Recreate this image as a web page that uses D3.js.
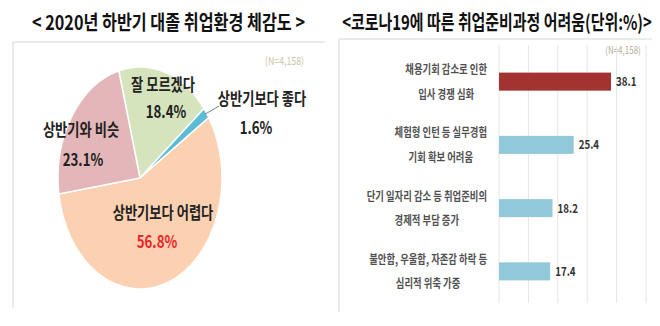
<!DOCTYPE html>
<html><head><meta charset="utf-8">
<script src="https://cdn.jsdelivr.net/npm/d3@7"></script>
<style>
html,body{margin:0;padding:0;background:#fff;}
svg{display:block;font-family:"Noto Sans CJK KR","Noto Sans",sans-serif;}
</style></head>
<body>
<svg id="c" width="660" height="326"></svg>
<script>
// ---- data ----
const leftTitle = "< 2020년 하반기 대졸 취업환경 체감도 >";
const rightTitle = "<코로나19에 따른 취업준비과정 어려움(단위:%)>";
const sampleLabel = "(N=4,158)";

const pieNames = ["잘 모르겠다", "상반기보다 좋다", "상반기보다 어렵다", "상반기와 비슷"];
const pieValues = [18.4, 1.6, 56.8, 23.1];

const barCategories = [
  ["채용기회 감소로 인한", "입사 경쟁 심화"],
  ["체험형 인턴 등 실무경험", "기회 확보 어려움"],
  ["단기 일자리 감소 등 취업준비의", "경제적 부담 증가"],
  ["불안함, 우울함, 자존감 하락 등", "심리적 위축 가중"]
];
const barValues = [38.1, 25.4, 18.2, 17.4];
const barTicks = [0, 10, 20, 30, 40, 50];

// ---- drawing ----
const svg = d3.select("#c");
const SX = 0.78;

function txt(g, x, y, s, opt) {
  opt = opt || {};
  const t = g.append("text")
    .attr("transform", `translate(${x},${y}) scale(${opt.sx || SX},1)`)
    .attr("text-anchor", opt.anchor || "middle")
    .attr("font-size", opt.size || 12)
    .attr("font-weight", opt.weight || 700)
    .attr("fill", opt.fill || "#222")
    .text(s);
  return t;
}
function fitTxt(g, x, y, s, width, size, fill) {
  const t = g.append("text")
    .attr("text-anchor", "middle")
    .attr("font-size", size)
    .attr("font-weight", 700)
    .attr("fill", fill || "#111")
    .text(s);
  const w = t.node().getComputedTextLength();
  t.attr("transform", `translate(${x},${y}) scale(${width / w},1)`);
  return t;
}

// titles
fitTxt(svg, 168.5, 30, leftTitle, 273, 20);
fitTxt(svg, 497, 30, rightTitle, 310, 20);

// panel frames
const frame = svg.append("g").attr("stroke", "#e4e4e4").attr("stroke-width", 1.5);
frame.append("line").attr("x1", 13).attr("x2", 325).attr("y1", 42).attr("y2", 42);
frame.append("line").attr("x1", 13).attr("x2", 13).attr("y1", 42).attr("y2", 308);
frame.append("line").attr("x1", 339).attr("x2", 652).attr("y1", 39).attr("y2", 39);
frame.append("line").attr("x1", 339).attr("x2", 339).attr("y1", 39).attr("y2", 312);

txt(svg, 284.5, 65, sampleLabel, {size: 11, weight: 400, fill: "#cdc6a6", sx: 0.8});
txt(svg, 623, 54, sampleLabel, {size: 10, weight: 400, fill: "#b5ad9c", sx: 0.8});

// ---- pie ----
const pieColors = ["#d6e4be", "#5bbcd6", "#fbd1b1", "#e3b6b9"];
const cx = 140, cy = 178, rx = 82, ry = 111;
const pie = d3.pie().sort(null)
  .startAngle(-15 * Math.PI / 180)
  .endAngle(-15 * Math.PI / 180 + 2 * Math.PI);
const arcs = pie(pieValues);
const arc = d3.arc().innerRadius(0).outerRadius(rx);
const pg = svg.append("g").attr("transform", `translate(${cx},${cy}) scale(1,${ry / rx})`);
pg.selectAll("path").data(arcs).join("path")
  .attr("d", arc)
  .attr("fill", (d, i) => pieColors[i])
  .attr("stroke", "#fff")
  .attr("stroke-width", 1.5)
  .attr("vector-effect", "non-scaling-stroke");

// leader line for small slice
const small = arcs[1];
const mid = (small.startAngle + small.endAngle) / 2;
const px = cx + Math.sin(mid) * (rx - 2), py = cy - Math.cos(mid) * (ry - 2);
svg.append("line").attr("x1", px).attr("y1", py).attr("x2", px + 14).attr("y2", py - 8)
  .attr("stroke", "#6b8a99").attr("stroke-width", 1);

// pie labels (positions chosen per slice)
const pieLabelPos = [[163, 91, 166, 118], [262, 105, 256, 134], [163, 219, 157, 248], [81, 136, 83, 166]];
const pctFill = ["#222", "#222", "#e8252a", "#222"];
arcs.forEach((d, i) => {
  const p = pieLabelPos[i];
  txt(svg, p[0], p[1], pieNames[i], {size: 17});
  txt(svg, p[2], p[3], pieValues[i].toFixed(1) + "%", {size: 17, fill: pctFill[i]});
});

// ---- bars ----
const x = d3.scaleLinear().domain([0, 50]).range([499, 646]);
const y = d3.scaleBand().domain(d3.range(barValues.length)).range([50, 303])
  .paddingInner(0.715).paddingOuter(0.3575);

const grid = svg.append("g");
grid.selectAll("line").data(barTicks).join("line")
  .attr("x1", d => x(d)).attr("x2", d => x(d))
  .attr("y1", 45).attr("y2", 303)
  .attr("stroke", "#e6e6e6").attr("stroke-width", 1);

const barColors = ["#a23331", "#91c9db", "#91c9db", "#91c9db"];
svg.append("g").selectAll("rect").data(barValues).join("rect")
  .attr("x", x(0))
  .attr("y", (d, i) => y(i))
  .attr("width", d => x(d) - x(0))
  .attr("height", y.bandwidth())
  .attr("fill", (d, i) => barColors[i]);

const vl = svg.append("g");
barValues.forEach((v, i) => {
  const c = y(i) + y.bandwidth() / 2;
  txt(vl, x(v) + 5, c + 4.5, v.toFixed(1), {anchor: "start", size: 12.5, fill: "#333"});
});

const cl = svg.append("g");
barCategories.forEach((lines, i) => {
  const c = y(i) + y.bandwidth() / 2;
  const g = cl.append("g");
  const ts = lines.map((s, k) => txt(g, 0, c + (k === 0 ? -7.5 : 17), s, {size: 12, weight: 700, fill: "#505050"}));
  const maxW = d3.max(ts, t => t.node().getComputedTextLength()) * SX;
  const center = 487 - maxW / 2;
  ts.forEach((t, k) => t.attr("transform", `translate(${center},${c + (k === 0 ? -7.5 : 17)}) scale(${SX},1)`));
});
</script>
</body></html>
